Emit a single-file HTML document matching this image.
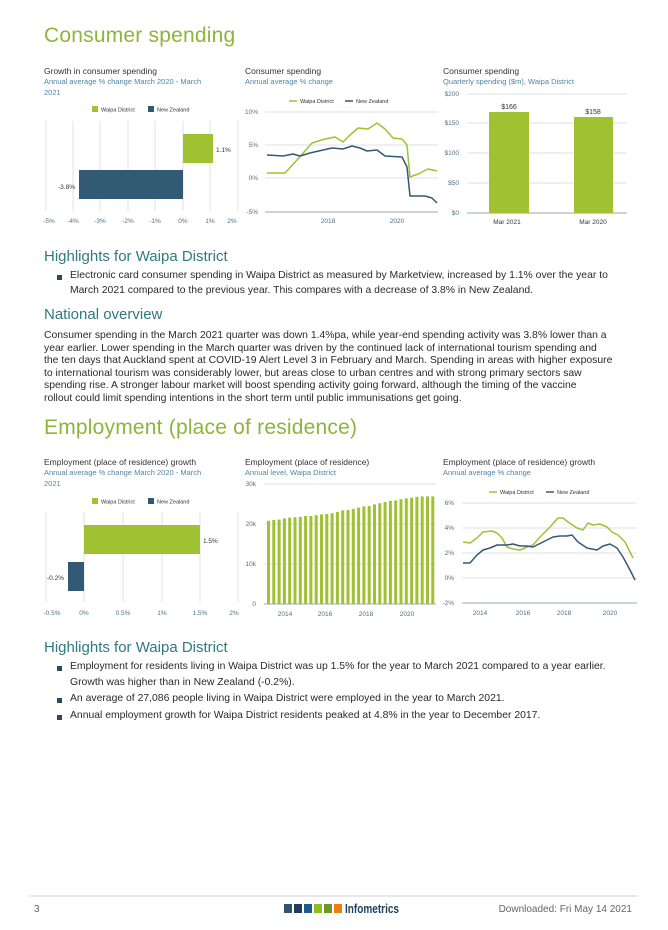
<!DOCTYPE html>
<html><head><meta charset="utf-8">
<style>
*{margin:0;padding:0;box-sizing:border-box}
body{width:668px;height:930px;background:#fff;position:relative;font-family:"Liberation Sans",sans-serif;color:#333;overflow:hidden}
.a{position:absolute;white-space:nowrap}
.h1{font-size:21px;color:#8db53a;letter-spacing:0.2px}
.h2{font-size:15px;color:#2f7a82}
.p{font-size:10.4px;color:#2a2a2a}
.ct{font-size:8.5px;color:#333}
.cs{font-size:7.5px;color:#4f86a6}
.bul{position:absolute;width:5px;height:5px;background:#2d4a5c}
svg{position:absolute;left:0;top:0}
</style></head><body>
<div class="a h1" style="left:44px;top:24px">Consumer spending</div>

<div class="a ct" style="left:44px;top:66px">Growth in consumer spending</div>
<div class="a cs" style="left:44px;top:77px;line-height:10.5px">Annual average % change March 2020 - March<br>2021</div>
<div class="a ct" style="left:245px;top:66px">Consumer spending</div>
<div class="a cs" style="left:245px;top:77px">Annual average % change</div>
<div class="a ct" style="left:443px;top:66px">Consumer spending</div>
<div class="a cs" style="left:443px;top:77px">Quarterly spending ($m), Waipa District</div>

<div class="a h2" style="left:44px;top:248px">Highlights for Waipa District</div>
<div class="bul" style="left:57px;top:275px"></div>
<div class="a p" style="left:70px;top:270px">Electronic card consumer spending in Waipa District as measured by Marketview, increased by 1.1% over the year to</div>
<div class="a p" style="left:70px;top:285px">March 2021 compared to the previous year. This compares with a decrease of 3.8% in New Zealand.</div>
<div class="a h2" style="left:44px;top:306px">National overview</div>
<div class="a p" style="left:44px;top:330px">Consumer spending in the March 2021 quarter was down 1.4%pa, while year-end spending activity was 3.8% lower than a</div>
<div class="a p" style="left:44px;top:342.5px">year earlier. Lower spending in the March quarter was driven by the continued lack of international tourism spending and</div>
<div class="a p" style="left:44px;top:355px">the ten days that Auckland spent at COVID-19 Alert Level 3 in February and March. Spending in areas with higher exposure</div>
<div class="a p" style="left:44px;top:367.5px">to international tourism was considerably lower, but areas close to urban centres and with strong primary sectors saw</div>
<div class="a p" style="left:44px;top:380px">spending rise. A stronger labour market will boost spending activity going forward, although the timing of the vaccine</div>
<div class="a p" style="left:44px;top:392.5px">rollout could limit spending intentions in the short term until public immunisations get going.</div>

<div class="a h1" style="left:44px;top:416px">Employment (place of residence)</div>
<div class="a ct" style="left:44px;top:457px">Employment (place of residence) growth</div>
<div class="a cs" style="left:44px;top:468px;line-height:10.5px">Annual average % change March 2020 - March<br>2021</div>
<div class="a ct" style="left:245px;top:457px">Employment (place of residence)</div>
<div class="a cs" style="left:245px;top:468px">Annual level, Waipa District</div>
<div class="a ct" style="left:443px;top:457px">Employment (place of residence) growth</div>
<div class="a cs" style="left:443px;top:468px">Annual average % change</div>

<div class="a h2" style="left:44px;top:639px">Highlights for Waipa District</div>
<div class="bul" style="left:57px;top:666px"></div>
<div class="a p" style="left:70px;top:661px">Employment for residents living in Waipa District was up 1.5% for the year to March 2021 compared to a year earlier.</div>
<div class="a p" style="left:70px;top:677px">Growth was higher than in New Zealand (-0.2%).</div>
<div class="bul" style="left:57px;top:698px"></div>
<div class="a p" style="left:70px;top:693px">An average of 27,086 people living in Waipa District were employed in the year to March 2021.</div>
<div class="bul" style="left:57px;top:715px"></div>
<div class="a p" style="left:70px;top:710px">Annual employment growth for Waipa District residents peaked at 4.8% in the year to December 2017.</div>

<svg width="668" height="930" font-family="Liberation Sans, sans-serif">
<g font-size="6.5" fill="#4f6f86">
<g stroke="#dde2e6" stroke-width="1">
<line x1="46" y1="121" x2="46" y2="211"/><line x1="73" y1="121" x2="73" y2="211"/><line x1="100" y1="121" x2="100" y2="211"/><line x1="128" y1="121" x2="128" y2="211"/><line x1="155" y1="121" x2="155" y2="211"/><line x1="183" y1="121" x2="183" y2="211"/><line x1="210" y1="121" x2="210" y2="211"/><line x1="238" y1="121" x2="238" y2="211"/>
</g>
<rect x="183" y="134" width="30" height="29" fill="#a0c132"/>
<rect x="79" y="170" width="104" height="29" fill="#335a74"/>
<text x="216" y="152" fill="#333">1.1%</text>
<text x="58" y="189" fill="#333">-3.8%</text>
<rect x="92" y="106" width="6" height="6" fill="#a0c132"/><text x="101" y="111.5" font-size="5.5" fill="#333">Waipa District</text>
<rect x="148" y="106" width="6" height="6" fill="#335a74"/><text x="157" y="111.5" font-size="5.5" fill="#333">New Zealand</text>
<g text-anchor="middle"><text x="49" y="223">-5%</text><text x="73" y="223">-4%</text><text x="100" y="223">-3%</text><text x="128" y="223">-2%</text><text x="155" y="223">-1%</text><text x="183" y="223">0%</text><text x="210" y="223">1%</text><text x="232" y="223">2%</text></g>

<g stroke="#dde2e6"><line x1="265" y1="112" x2="438" y2="112"/><line x1="265" y1="145" x2="438" y2="145"/><line x1="265" y1="178" x2="438" y2="178"/></g>
<line x1="265" y1="212" x2="438" y2="212" stroke="#9aa9b5"/>
<g text-anchor="end"><text x="258" y="114">10%</text><text x="258" y="147">5%</text><text x="258" y="180">0%</text><text x="258" y="214">-5%</text></g>
<g text-anchor="middle"><text x="328" y="223">2018</text><text x="397" y="223">2020</text></g>
<line x1="289" y1="101" x2="297" y2="101" stroke="#a0c132" stroke-width="1.5"/><text x="300" y="103" font-size="5.5" fill="#333">Waipa District</text>
<line x1="345" y1="101" x2="353" y2="101" stroke="#335a74" stroke-width="1.5"/><text x="356" y="103" font-size="5.5" fill="#333">New Zealand</text>
<polyline fill="none" stroke="#a0c132" stroke-width="1.5" stroke-linejoin="round" points="267,173 285,173 297,160 312,143 325,139 335,137 343,142 350,135 358,128 368,129 377,123 385,129 393,138 402,139 407,145 410,177 418,174 428,169 437,171"/>
<polyline fill="none" stroke="#335a74" stroke-width="1.5" stroke-linejoin="round" points="267,155 283,156 293,154 300,156 310,153 323,150 332,148 343,149 352,146 360,148 367,151 377,150 385,156 402,157 407,167 410,196 425,196 432,198 437,203"/>

<g stroke="#dde2e6"><line x1="467" y1="94" x2="627" y2="94"/><line x1="467" y1="123" x2="627" y2="123"/><line x1="467" y1="153" x2="627" y2="153"/><line x1="467" y1="183" x2="627" y2="183"/></g>
<line x1="467" y1="213" x2="627" y2="213" stroke="#9aa9b5"/>
<g text-anchor="end"><text x="459" y="96">$200</text><text x="459" y="125">$150</text><text x="459" y="155">$100</text><text x="459" y="185">$50</text><text x="459" y="215">$0</text></g>
<rect x="489" y="112" width="40" height="101" fill="#a0c132"/>
<rect x="574" y="117" width="39" height="96" fill="#a0c132"/>
<g text-anchor="middle" fill="#333" font-size="7"><text x="509" y="109">$166</text><text x="593" y="114">$158</text></g>
<g text-anchor="middle" fill="#333"><text x="507" y="224">Mar 2021</text><text x="593" y="224">Mar 2020</text></g>

<g stroke="#dde2e6"><line x1="46" y1="512" x2="46" y2="602"/><line x1="84" y1="512" x2="84" y2="602"/><line x1="123" y1="512" x2="123" y2="602"/><line x1="162" y1="512" x2="162" y2="602"/><line x1="200" y1="512" x2="200" y2="602"/><line x1="238" y1="512" x2="238" y2="602"/></g>
<rect x="84" y="525" width="116" height="29" fill="#a0c132"/>
<rect x="68" y="562" width="16" height="29" fill="#335a74"/>
<text x="203" y="543" fill="#333">1.5%</text>
<text x="47" y="580" fill="#333">-0.2%</text>
<rect x="92" y="498" width="6" height="6" fill="#a0c132"/><text x="101" y="503.5" font-size="5.5" fill="#333">Waipa District</text>
<rect x="148" y="498" width="6" height="6" fill="#335a74"/><text x="157" y="503.5" font-size="5.5" fill="#333">New Zealand</text>
<g text-anchor="middle"><text x="52" y="615">-0.5%</text><text x="84" y="615">0%</text><text x="123" y="615">0.5%</text><text x="162" y="615">1%</text><text x="200" y="615">1.5%</text><text x="234" y="615">2%</text></g>

<g stroke="#dde2e6"><line x1="264" y1="484" x2="436" y2="484"/><line x1="264" y1="524" x2="436" y2="524"/><line x1="264" y1="564" x2="436" y2="564"/></g>
<line x1="264" y1="604" x2="436" y2="604" stroke="#9aa9b5"/>
<g text-anchor="end"><text x="256" y="486">30k</text><text x="256" y="526">20k</text><text x="256" y="566">10k</text><text x="256" y="606">0</text></g>
<g text-anchor="middle"><text x="285" y="616">2014</text><text x="325" y="616">2016</text><text x="366" y="616">2018</text><text x="407" y="616">2020</text></g>

<g stroke="#dde2e6"><line x1="462" y1="503" x2="637" y2="503"/><line x1="462" y1="528" x2="637" y2="528"/><line x1="462" y1="553" x2="637" y2="553"/><line x1="462" y1="578" x2="637" y2="578"/></g>
<line x1="462" y1="603" x2="637" y2="603" stroke="#9aa9b5"/>
<g text-anchor="end"><text x="454" y="505">6%</text><text x="454" y="530">4%</text><text x="454" y="555">2%</text><text x="454" y="580">0%</text><text x="454" y="605">-2%</text></g>
<g text-anchor="middle"><text x="480" y="615">2014</text><text x="523" y="615">2016</text><text x="564" y="615">2018</text><text x="610" y="615">2020</text></g>
<line x1="489" y1="492" x2="497" y2="492" stroke="#a0c132" stroke-width="1.5"/><text x="500" y="494" font-size="5.5" fill="#333">Waipa District</text>
<line x1="546" y1="492" x2="554" y2="492" stroke="#335a74" stroke-width="1.5"/><text x="557" y="494" font-size="5.5" fill="#333">New Zealand</text>
<polyline fill="none" stroke="#a0c132" stroke-width="1.5" stroke-linejoin="round" points="463,542 470,543 477,538 483,532 492,531 497,533 502,538 507,547 513,549 520,550 527,547 533,545 540,537 550,527 558,518 563,518 568,522 577,528 583,530 588,523 593,525 600,524 607,527 612,532 618,535 625,542 633,558"/>
<polyline fill="none" stroke="#335a74" stroke-width="1.5" stroke-linejoin="round" points="463,563 470,563 477,555 483,550 490,548 497,545 507,545 513,544 520,546 527,546 533,547 543,542 553,537 560,536 567,536 572,535 578,542 587,548 597,550 603,546 610,544 617,548 623,557 630,570 635,580"/>
</g>
<g fill="#a0c132">
<rect x="267" y="520.8" width="3" height="83.2"/><rect x="272.3" y="520" width="3" height="84"/><rect x="277.6" y="519.6" width="3" height="84.4"/><rect x="282.9" y="518.4" width="3" height="85.6"/><rect x="288.2" y="517.6" width="3" height="86.4"/><rect x="293.5" y="517.2" width="3" height="86.8"/><rect x="298.8" y="516.8" width="3" height="87.2"/><rect x="304.1" y="516" width="3" height="88"/><rect x="309.4" y="516" width="3" height="88"/><rect x="314.7" y="515.2" width="3" height="88.8"/><rect x="320" y="514.4" width="3" height="89.6"/><rect x="325.3" y="514" width="3" height="90"/><rect x="330.6" y="513.2" width="3" height="90.8"/><rect x="335.9" y="512" width="3" height="92"/><rect x="341.2" y="510.4" width="3" height="93.6"/><rect x="346.5" y="510" width="3" height="94"/><rect x="351.8" y="508.8" width="3" height="95.2"/><rect x="357.1" y="507.6" width="3" height="96.4"/><rect x="362.4" y="506.4" width="3" height="97.6"/><rect x="367.7" y="506" width="3" height="98"/><rect x="373" y="504.4" width="3" height="99.6"/><rect x="378.3" y="503.2" width="3" height="100.8"/><rect x="383.6" y="502" width="3" height="102"/><rect x="388.9" y="500.8" width="3" height="103.2"/><rect x="394.2" y="500.4" width="3" height="103.6"/><rect x="399.5" y="499.2" width="3" height="104.8"/><rect x="404.8" y="498.4" width="3" height="105.6"/><rect x="410.1" y="497.6" width="3" height="106.4"/><rect x="415.4" y="496.8" width="3" height="107.2"/><rect x="420.7" y="496.4" width="3" height="107.6"/><rect x="426" y="496.4" width="3" height="107.6"/><rect x="431.3" y="496.4" width="3" height="107.6"/>
</g>

<line x1="30" y1="896" x2="638" y2="896" stroke="#d0d0d0" stroke-width="1"/>
<text x="34" y="912" font-size="10" fill="#666">3</text>
<rect x="284" y="904" width="8" height="9" fill="#2f5470"/><rect x="294" y="904" width="8" height="9" fill="#1f3f5a"/><rect x="304" y="904" width="8" height="9" fill="#1f5a8a"/><rect x="314" y="904" width="8" height="9" fill="#8cbf1f"/><rect x="324" y="904" width="8" height="9" fill="#6a9a1f"/><rect x="334" y="904" width="8" height="9" fill="#f07a1a"/>
<text x="345" y="913" font-size="13" font-weight="bold" fill="#1f3f5a" textLength="54" lengthAdjust="spacingAndGlyphs">Infometrics</text>
<text x="632" y="912" font-size="10" fill="#666" text-anchor="end">Downloaded: Fri May 14 2021</text>
</svg>
</body></html>
